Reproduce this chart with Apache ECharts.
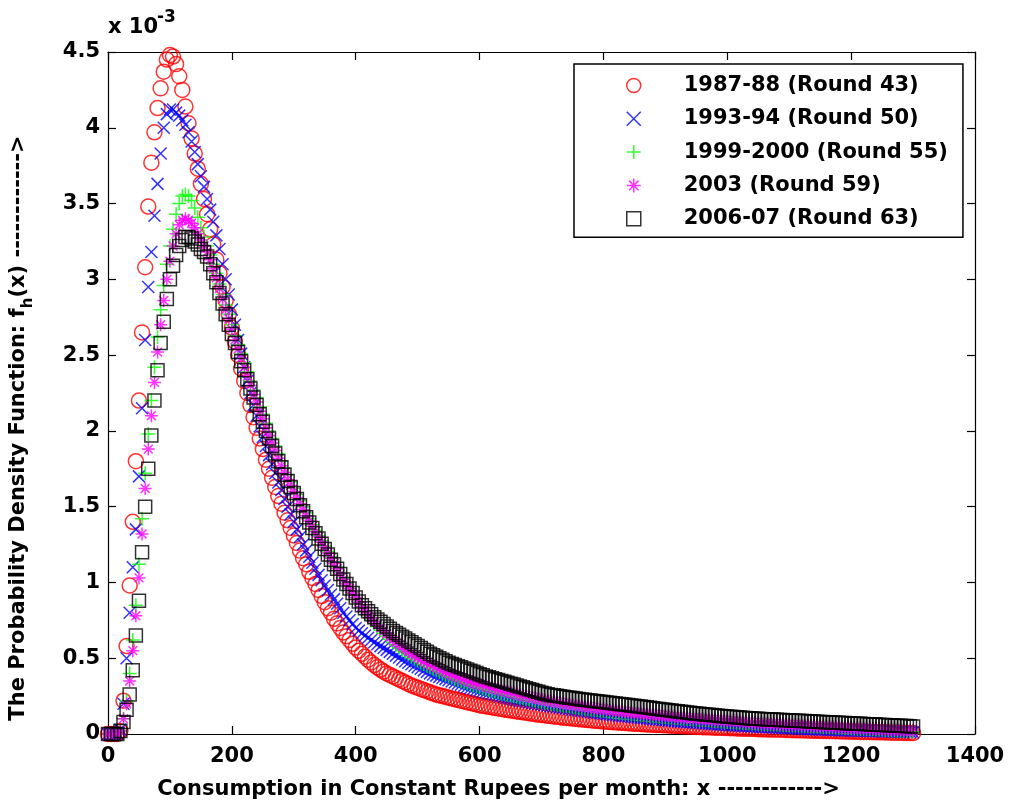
<!DOCTYPE html>
<html>
<head>
<meta charset="utf-8">
<script src="https://cdn.jsdelivr.net/npm/echarts@6.0.0/dist/echarts.min.js"></script>
<style>
  html, body { margin: 0; padding: 0; background: #fff; }
  #chart { width: 1010px; height: 808px; }
</style>
</head>
<body>
<div id="chart"></div>
<script>
// consumption grid (Rs per month), one row per 100 Rs
var xs = [
  0, 5, 10, 15, 20, 25, 30, 35, 40, 45, 50, 55, 60, 65, 70, 75, 80, 85, 90, 95,
  100, 105, 110, 115, 120, 125, 130, 135, 140, 145, 150, 155, 160, 165, 170, 175, 180, 185, 190, 195,
  200, 205, 210, 215, 220, 225, 230, 235, 240, 245, 250, 255, 260, 265, 270, 275, 280, 285, 290, 295,
  300, 305, 310, 315, 320, 325, 330, 335, 340, 345, 350, 355, 360, 365, 370, 375, 380, 385, 390, 395,
  400, 405, 410, 415, 420, 425, 430, 435, 440, 445, 450, 455, 460, 465, 470, 475, 480, 485, 490, 495,
  500, 505, 510, 515, 520, 525, 530, 535, 540, 545, 550, 555, 560, 565, 570, 575, 580, 585, 590, 595,
  600, 605, 610, 615, 620, 625, 630, 635, 640, 645, 650, 655, 660, 665, 670, 675, 680, 685, 690, 695,
  700, 705, 710, 715, 720, 725, 730, 735, 740, 745, 750, 755, 760, 765, 770, 775, 780, 785, 790, 795,
  800, 805, 810, 815, 820, 825, 830, 835, 840, 845, 850, 855, 860, 865, 870, 875, 880, 885, 890, 895,
  900, 905, 910, 915, 920, 925, 930, 935, 940, 945, 950, 955, 960, 965, 970, 975, 980, 985, 990, 995,
  1000, 1005, 1010, 1015, 1020, 1025, 1030, 1035, 1040, 1045, 1050, 1055, 1060, 1065, 1070, 1075, 1080, 1085, 1090, 1095,
  1100, 1105, 1110, 1115, 1120, 1125, 1130, 1135, 1140, 1145, 1150, 1155, 1160, 1165, 1170, 1175, 1180, 1185, 1190, 1195,
  1200, 1205, 1210, 1215, 1220, 1225, 1230, 1235, 1240, 1245, 1250, 1255, 1260, 1265, 1270, 1275, 1280, 1285, 1290, 1295,
  1300
];

// density values f_h(x), in units of 1e-3
var r43 = [
  0, 0, 0, 0, 0.02, 0.22, 0.58, 0.98, 1.4, 1.8, 2.2, 2.65, 3.08, 3.48, 3.77, 3.97, 4.13, 4.26, 4.37, 4.45,
  4.48, 4.47, 4.42, 4.34, 4.25, 4.14, 4.03, 3.93, 3.83, 3.73, 3.63, 3.53, 3.43, 3.33, 3.23, 3.13, 3.04, 2.95, 2.86, 2.77,
  2.68, 2.59, 2.5, 2.41, 2.33, 2.25, 2.17, 2.09, 2.02, 1.95, 1.88, 1.81, 1.75, 1.69, 1.63, 1.57, 1.52, 1.46, 1.41, 1.36,
  1.31, 1.26, 1.21, 1.16, 1.12, 1.07, 1.03, 0.99, 0.95, 0.91, 0.87, 0.83, 0.8, 0.76, 0.73, 0.7, 0.67, 0.645, 0.62, 0.595,
  0.57, 0.55, 0.53, 0.51, 0.49, 0.472, 0.455, 0.44, 0.425, 0.412, 0.4, 0.39, 0.38, 0.37, 0.36, 0.35, 0.34, 0.33, 0.32, 0.312,
  0.305, 0.297, 0.29, 0.282, 0.275, 0.268, 0.26, 0.255, 0.25, 0.245, 0.24, 0.235, 0.23, 0.225, 0.22, 0.215, 0.21, 0.205, 0.2, 0.195,
  0.19, 0.186, 0.183, 0.179, 0.176, 0.172, 0.169, 0.165, 0.162, 0.158, 0.155, 0.152, 0.149, 0.146, 0.143, 0.14, 0.137, 0.134, 0.131, 0.128,
  0.126, 0.123, 0.121, 0.118, 0.116, 0.113, 0.111, 0.108, 0.106, 0.104, 0.102, 0.1, 0.098, 0.096, 0.094, 0.092, 0.09, 0.088, 0.086, 0.084,
  0.083, 0.081, 0.08, 0.078, 0.077, 0.075, 0.074, 0.072, 0.071, 0.069, 0.068, 0.067, 0.066, 0.064, 0.063, 0.062, 0.061, 0.06, 0.059, 0.058,
  0.057, 0.056, 0.055, 0.054, 0.053, 0.052, 0.051, 0.05, 0.049, 0.048, 0.047, 0.046, 0.045, 0.044, 0.044, 0.043, 0.042, 0.041, 0.041, 0.04,
  0.039, 0.038, 0.038, 0.037, 0.036, 0.035, 0.035, 0.034, 0.034, 0.033, 0.032, 0.031, 0.031, 0.03, 0.03, 0.029, 0.029, 0.028, 0.028, 0.027,
  0.026, 0.025, 0.025, 0.024, 0.024, 0.023, 0.023, 0.022, 0.022, 0.021, 0.021, 0.02, 0.02, 0.019, 0.019, 0.018, 0.018, 0.017, 0.017, 0.016,
  0.016, 0.015, 0.015, 0.014, 0.014, 0.013, 0.013, 0.012, 0.012, 0.011, 0.011, 0.01, 0.01, 0.009, 0.009, 0.008, 0.008, 0.007, 0.007, 0.006,
  0.006
];

var r50 = [
  0, 0, 0, 0, 0.03, 0.2, 0.5, 0.8, 1.1, 1.35, 1.7, 2.15, 2.6, 2.95, 3.18, 3.42, 3.63, 3.83, 4.0, 4.09,
  4.12, 4.12, 4.1, 4.08, 4.05, 4.02, 3.97, 3.91, 3.84, 3.76, 3.68, 3.61, 3.53, 3.46, 3.38, 3.29, 3.2, 3.1, 3.0, 2.9,
  2.8, 2.7, 2.6, 2.51, 2.42, 2.33, 2.25, 2.17, 2.1, 2.03, 1.96, 1.9, 1.84, 1.78, 1.72, 1.66, 1.61, 1.55, 1.5, 1.45,
  1.4, 1.35, 1.3, 1.25, 1.21, 1.17, 1.13, 1.09, 1.05, 1.015, 0.98, 0.95, 0.92, 0.89, 0.86, 0.83, 0.8, 0.775, 0.75, 0.725,
  0.7, 0.682, 0.665, 0.65, 0.635, 0.62, 0.605, 0.592, 0.58, 0.567, 0.555, 0.542, 0.53, 0.517, 0.505, 0.492, 0.48, 0.47, 0.46, 0.45,
  0.44, 0.43, 0.42, 0.41, 0.4, 0.392, 0.385, 0.377, 0.37, 0.362, 0.355, 0.347, 0.34, 0.332, 0.325, 0.317, 0.31, 0.304, 0.298, 0.292,
  0.286, 0.28, 0.275, 0.27, 0.265, 0.26, 0.255, 0.25, 0.245, 0.24, 0.235, 0.23, 0.226, 0.222, 0.218, 0.214, 0.21, 0.206, 0.202, 0.198,
  0.195, 0.191, 0.188, 0.184, 0.181, 0.177, 0.174, 0.171, 0.168, 0.165, 0.162, 0.159, 0.156, 0.153, 0.15, 0.147, 0.144, 0.141, 0.139, 0.136,
  0.134, 0.131, 0.129, 0.126, 0.124, 0.121, 0.119, 0.117, 0.115, 0.112, 0.11, 0.108, 0.106, 0.104, 0.102, 0.1, 0.098, 0.096, 0.094, 0.092,
  0.09, 0.088, 0.087, 0.085, 0.083, 0.081, 0.08, 0.078, 0.077, 0.075, 0.074, 0.072, 0.071, 0.069, 0.068, 0.066, 0.065, 0.063, 0.062, 0.061,
  0.06, 0.058, 0.057, 0.056, 0.055, 0.053, 0.052, 0.051, 0.05, 0.049, 0.048, 0.047, 0.046, 0.045, 0.044, 0.043, 0.042, 0.041, 0.04, 0.039,
  0.038, 0.037, 0.036, 0.035, 0.034, 0.033, 0.032, 0.032, 0.031, 0.03, 0.029, 0.028, 0.028, 0.027, 0.026, 0.025, 0.025, 0.024, 0.024, 0.023,
  0.022, 0.022, 0.021, 0.021, 0.02, 0.02, 0.019, 0.019, 0.018, 0.018, 0.017, 0.017, 0.016, 0.016, 0.015, 0.015, 0.014, 0.014, 0.013, 0.013,
  0.012
];

var r55 = [
  0, 0, 0, 0, 0.02, 0.1, 0.22, 0.4, 0.62, 0.85, 1.12, 1.42, 1.72, 1.98, 2.2, 2.42, 2.62, 2.8, 2.96, 3.1,
  3.22, 3.33, 3.43, 3.5, 3.55, 3.56, 3.55, 3.52, 3.47, 3.41, 3.34, 3.28, 3.22, 3.16, 3.1, 3.04, 2.97, 2.9, 2.83, 2.77,
  2.7, 2.63, 2.57, 2.51, 2.45, 2.39, 2.33, 2.27, 2.22, 2.16, 2.11, 2.05, 2.0, 1.95, 1.9, 1.85, 1.8, 1.755, 1.71, 1.665,
  1.62, 1.58, 1.54, 1.5, 1.46, 1.42, 1.38, 1.345, 1.31, 1.275, 1.24, 1.205, 1.17, 1.135, 1.1, 1.065, 1.03, 0.995, 0.96, 0.93,
  0.9, 0.87, 0.84, 0.81, 0.78, 0.755, 0.73, 0.707, 0.685, 0.665, 0.645, 0.625, 0.605, 0.587, 0.57, 0.555, 0.54, 0.525, 0.51, 0.497,
  0.485, 0.472, 0.46, 0.45, 0.44, 0.43, 0.42, 0.41, 0.4, 0.39, 0.38, 0.372, 0.365, 0.357, 0.35, 0.342, 0.335, 0.327, 0.32, 0.314,
  0.308, 0.302, 0.296, 0.29, 0.285, 0.28, 0.274, 0.269, 0.264, 0.259, 0.254, 0.249, 0.245, 0.24, 0.236, 0.231, 0.227, 0.223, 0.219, 0.215,
  0.211, 0.207, 0.204, 0.2, 0.197, 0.193, 0.19, 0.187, 0.184, 0.181, 0.178, 0.175, 0.172, 0.169, 0.166, 0.163, 0.161, 0.158, 0.156, 0.153,
  0.151, 0.148, 0.146, 0.143, 0.141, 0.139, 0.137, 0.135, 0.133, 0.131, 0.129, 0.127, 0.125, 0.123, 0.121, 0.119, 0.117, 0.115, 0.113, 0.111,
  0.11, 0.108, 0.107, 0.105, 0.104, 0.102, 0.101, 0.099, 0.098, 0.096, 0.095, 0.093, 0.092, 0.09, 0.089, 0.087, 0.086, 0.084, 0.083, 0.081,
  0.08, 0.078, 0.077, 0.075, 0.074, 0.072, 0.072, 0.071, 0.07, 0.069, 0.068, 0.067, 0.066, 0.065, 0.064, 0.063, 0.062, 0.061, 0.06, 0.059,
  0.058, 0.057, 0.056, 0.055, 0.054, 0.053, 0.052, 0.051, 0.05, 0.049, 0.048, 0.047, 0.046, 0.045, 0.044, 0.043, 0.042, 0.041, 0.04, 0.039,
  0.038, 0.037, 0.036, 0.035, 0.034, 0.033, 0.032, 0.031, 0.03, 0.029, 0.028, 0.027, 0.026, 0.025, 0.024, 0.023, 0.022, 0.021, 0.02, 0.019,
  0.018
];

var r59 = [
  0, 0, 0, 0, 0.02, 0.1, 0.2, 0.35, 0.55, 0.78, 1.03, 1.32, 1.62, 1.88, 2.1, 2.32, 2.52, 2.7, 2.86, 3.0,
  3.12, 3.22, 3.3, 3.36, 3.39, 3.4, 3.39, 3.37, 3.34, 3.3, 3.26, 3.22, 3.18, 3.13, 3.07, 3.01, 2.94, 2.87, 2.8, 2.74,
  2.67, 2.6, 2.54, 2.48, 2.42, 2.36, 2.3, 2.24, 2.19, 2.13, 2.08, 2.02, 1.97, 1.92, 1.87, 1.82, 1.77, 1.725, 1.68, 1.64,
  1.6, 1.56, 1.52, 1.48, 1.44, 1.405, 1.37, 1.335, 1.3, 1.265, 1.23, 1.195, 1.16, 1.125, 1.09, 1.055, 1.02, 0.99, 0.96, 0.93,
  0.9, 0.87, 0.84, 0.815, 0.79, 0.765, 0.74, 0.72, 0.7, 0.68, 0.66, 0.64, 0.62, 0.605, 0.59, 0.575, 0.56, 0.545, 0.53, 0.517,
  0.505, 0.492, 0.48, 0.47, 0.46, 0.45, 0.44, 0.43, 0.42, 0.41, 0.4, 0.392, 0.385, 0.377, 0.37, 0.362, 0.355, 0.347, 0.34, 0.335,
  0.33, 0.324, 0.318, 0.312, 0.306, 0.3, 0.295, 0.29, 0.285, 0.28, 0.275, 0.27, 0.265, 0.26, 0.256, 0.251, 0.247, 0.242, 0.238, 0.234,
  0.23, 0.226, 0.222, 0.218, 0.215, 0.211, 0.208, 0.204, 0.201, 0.198, 0.195, 0.192, 0.189, 0.186, 0.183, 0.18, 0.177, 0.174, 0.171, 0.168,
  0.166, 0.163, 0.161, 0.158, 0.156, 0.153, 0.151, 0.148, 0.146, 0.144, 0.142, 0.14, 0.138, 0.136, 0.134, 0.132, 0.13, 0.128, 0.126, 0.124,
  0.122, 0.12, 0.118, 0.116, 0.114, 0.112, 0.111, 0.109, 0.108, 0.106, 0.105, 0.103, 0.102, 0.1, 0.099, 0.097, 0.096, 0.094, 0.093, 0.091,
  0.09, 0.088, 0.087, 0.085, 0.084, 0.082, 0.081, 0.079, 0.078, 0.076, 0.075, 0.073, 0.072, 0.071, 0.07, 0.069, 0.068, 0.067, 0.066, 0.065,
  0.064, 0.063, 0.062, 0.061, 0.06, 0.059, 0.058, 0.057, 0.056, 0.055, 0.054, 0.053, 0.052, 0.051, 0.05, 0.049, 0.048, 0.047, 0.046, 0.045,
  0.044, 0.043, 0.042, 0.041, 0.04, 0.039, 0.038, 0.037, 0.036, 0.035, 0.034, 0.033, 0.032, 0.031, 0.03, 0.029, 0.028, 0.027, 0.026, 0.025,
  0.024
];

var r63 = [
  0, 0, 0, 0, 0.02, 0.08, 0.16, 0.26, 0.42, 0.65, 0.88, 1.2, 1.5, 1.75, 1.97, 2.2, 2.4, 2.58, 2.72, 2.87,
  3.0, 3.09, 3.16, 3.22, 3.26, 3.28, 3.28, 3.27, 3.25, 3.23, 3.2, 3.18, 3.15, 3.1, 3.04, 2.98, 2.91, 2.84, 2.77, 2.7,
  2.64, 2.58, 2.52, 2.46, 2.4, 2.34, 2.28, 2.22, 2.17, 2.11, 2.06, 2.0, 1.95, 1.9, 1.85, 1.8, 1.76, 1.71, 1.67, 1.63,
  1.59, 1.55, 1.51, 1.47, 1.43, 1.395, 1.36, 1.325, 1.29, 1.255, 1.22, 1.185, 1.15, 1.12, 1.09, 1.055, 1.02, 0.99, 0.96, 0.93,
  0.9, 0.875, 0.85, 0.83, 0.81, 0.79, 0.77, 0.755, 0.74, 0.725, 0.71, 0.695, 0.68, 0.667, 0.655, 0.642, 0.63, 0.617, 0.605, 0.592,
  0.58, 0.567, 0.555, 0.542, 0.53, 0.52, 0.51, 0.5, 0.49, 0.48, 0.47, 0.462, 0.455, 0.447, 0.44, 0.432, 0.425, 0.417, 0.41, 0.402,
  0.395, 0.387, 0.38, 0.374, 0.368, 0.362, 0.356, 0.35, 0.344, 0.338, 0.332, 0.326, 0.32, 0.314, 0.308, 0.302, 0.296, 0.29, 0.284, 0.278,
  0.272, 0.267, 0.262, 0.258, 0.255, 0.252, 0.249, 0.246, 0.243, 0.24, 0.237, 0.234, 0.231, 0.228, 0.226, 0.223, 0.221, 0.218, 0.216, 0.213,
  0.211, 0.208, 0.206, 0.203, 0.201, 0.198, 0.196, 0.193, 0.191, 0.188, 0.186, 0.183, 0.181, 0.178, 0.176, 0.173, 0.17, 0.167, 0.165, 0.162,
  0.16, 0.157, 0.155, 0.152, 0.15, 0.147, 0.145, 0.142, 0.14, 0.137, 0.135, 0.133, 0.131, 0.129, 0.127, 0.125, 0.123, 0.121, 0.119, 0.117,
  0.115, 0.113, 0.112, 0.11, 0.109, 0.107, 0.106, 0.104, 0.103, 0.101, 0.1, 0.099, 0.098, 0.097, 0.096, 0.095, 0.094, 0.093, 0.092, 0.091,
  0.09, 0.089, 0.088, 0.087, 0.086, 0.085, 0.084, 0.083, 0.082, 0.081, 0.08, 0.079, 0.078, 0.077, 0.076, 0.075, 0.074, 0.073, 0.072, 0.071,
  0.07, 0.069, 0.068, 0.067, 0.066, 0.065, 0.064, 0.063, 0.062, 0.061, 0.06, 0.059, 0.058, 0.057, 0.056, 0.055, 0.054, 0.053, 0.052, 0.051,
  0.05
];

var names = [
  '1987-88 (Round 43)',
  '1993-94 (Round 50)',
  '1999-2000 (Round 55)',
  '2003 (Round 59)',
  '2006-07 (Round 63)'
];

var FONT = 'DejaVu Sans';
var SYM_X = 'path://M0,0L10,10M10,0L0,10';
var SYM_PLUS = 'path://M5,0L5,10M0,5L10,5';
var SYM_STAR = 'path://M5,0L5,10M0,5L10,5M1.6,1.6L8.4,8.4M8.4,1.6L1.6,8.4';

var marks = [
  { ys: r43, symbol: 'circle', size: 15, color: '#ff0000' },
  { ys: r50, symbol: SYM_X, size: 12, color: '#0000ff' },
  { ys: r55, symbol: SYM_PLUS, size: 14, color: '#00ff00' },
  { ys: r59, symbol: SYM_STAR, size: 13, color: '#ff00ff' },
  { ys: r63, symbol: 'rect', size: 13, color: '#000000' }
];

var series = marks.map(function (m, k) {
  return {
    name: names[k],
    type: 'scatter',
    clip: false,
    symbol: m.symbol,
    symbolSize: m.size,
    itemStyle: { color: 'rgba(0,0,0,0)', borderColor: m.color, borderWidth: 1.5 },
    emphasis: { disabled: true },
    data: xs.map(function (x, i) { return [x, m.ys[i]]; })
  };
});

var legendData = marks.map(function (m, k) {
  return {
    name: names[k],
    icon: m.symbol,
    itemStyle: { color: 'rgba(0,0,0,0)', borderColor: m.color, borderWidth: 1.5 }
  };
});

var tickLabel = { fontFamily: FONT, fontWeight: 'bold', fontSize: 21, color: '#000' };
var axisLine = { show: true, onZero: false, lineStyle: { color: '#000', width: 1.2 } };
var axisTick = { show: true, inside: true, length: 8, lineStyle: { color: '#000', width: 1.2 } };

var chart = echarts.init(document.getElementById('chart'));
chart.setOption({
  animation: false,
  backgroundColor: '#fff',
  grid: { left: 108, right: 35, top: 52, bottom: 74, containLabel: false, outerBoundsMode: 'none' },
  legend: {
    orient: 'vertical',
    left: 574,
    top: 64,
    padding: [11, 15, 8, 52],
    itemWidth: 14,
    itemHeight: 14,
    itemGap: 12.3,
    borderColor: '#000',
    borderWidth: 1.5,
    backgroundColor: '#fff',
    selectedMode: false,
    textStyle: {
      fontFamily: FONT, fontWeight: 'bold', fontSize: 21, lineHeight: 21,
      color: '#000', padding: [0, 0, 0, 38]
    },
    data: legendData
  },
  xAxis: [
    {
      type: 'value', min: 0, max: 1400, interval: 200, position: 'bottom',
      axisLine: axisLine, axisTick: axisTick, splitLine: { show: false },
      axisLabel: Object.assign({ margin: 12, formatter: function (v) { return String(v); } }, tickLabel),
      name: 'Consumption in Constant Rupees per month: x ------------>',
      nameLocation: 'middle',
      nameGap: 45,
      nameTextStyle: { fontFamily: FONT, fontWeight: 'bold', fontSize: 21, color: '#000', padding: [0, 86, 0, 0] }
    },
    {
      type: 'value', min: 0, max: 1400, interval: 200, position: 'top',
      axisLine: axisLine, axisTick: axisTick, splitLine: { show: false },
      axisLabel: { show: false }
    }
  ],
  yAxis: [
    {
      type: 'value', min: 0, max: 4.5, interval: 0.5, position: 'left',
      axisLine: axisLine, axisTick: axisTick, splitLine: { show: false },
      axisLabel: Object.assign({ margin: 8 }, tickLabel),
      name: 'The Probability Density Function: f{s|h}(x) ------------>',
      nameLocation: 'middle',
      nameRotate: 90,
      nameGap: 72,
      nameTextStyle: {
        fontFamily: FONT, fontWeight: 'bold', fontSize: 21, lineHeight: 34, color: '#000',
        padding: [0, 70, 0, 0],
        rich: {
          s: { fontFamily: FONT, fontWeight: 'bold', fontSize: 15, lineHeight: 15, verticalAlign: 'bottom', color: '#000' }
        }
      }
    },
    {
      type: 'value', min: 0, max: 4.5, interval: 0.5, position: 'right',
      axisLine: axisLine, axisTick: axisTick, splitLine: { show: false },
      axisLabel: { show: false }
    }
  ],
  graphic: [
    { type: 'text', left: 108, top: 17, style: { text: 'x 10', font: 'bold 21px "DejaVu Sans"', fill: '#000' } },
    { type: 'text', left: 157, top: 9, style: { text: '-3', font: 'bold 17px "DejaVu Sans"', fill: '#000' } }
  ],
  series: series
});
</script>
</body>
</html>
